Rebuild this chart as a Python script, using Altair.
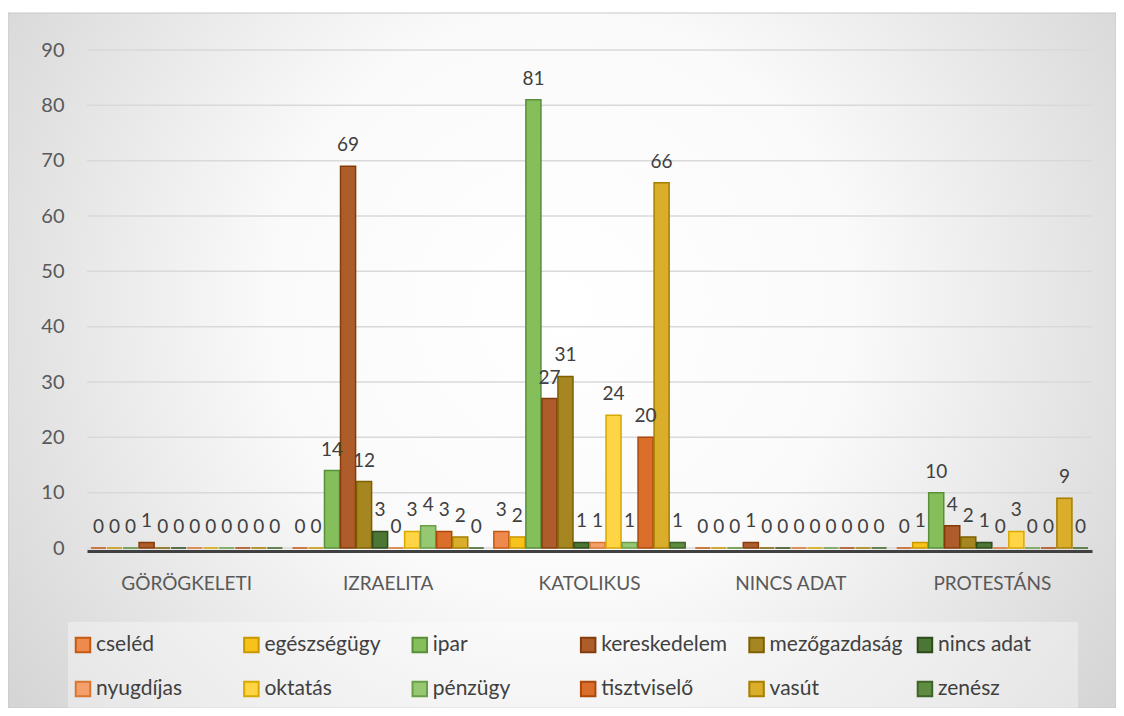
import altair as alt
import pandas as pd

categories = ["GÖRÖGKELETI", "IZRAELITA", "KATOLIKUS", "NINCS ADAT", "PROTESTÁNS"]
series = ["cseléd", "egészségügy", "ipar", "kereskedelem", "mezőgazdaság", "nincs adat",
          "nyugdíjas", "oktatás", "pénzügy", "tisztviselő", "vasút", "zenész"]

gorogkeleti = [0, 0, 0, 1, 0, 0, 0, 0, 0, 0, 0, 0]
izraelita = [0, 0, 14, 69, 12, 3, 0, 3, 4, 3, 2, 0]
katolikus = [3, 2, 81, 27, 31, 1, 1, 24, 1, 20, 66, 1]
nincs_adat = [0, 0, 0, 1, 0, 0, 0, 0, 0, 0, 0, 0]
protestans = [0, 1, 10, 4, 2, 1, 0, 3, 0, 0, 9, 0]

y_ticks = [0, 10, 20, 30, 40, 50, 60, 70, 80, 90]

fill_colors = ["#EF8A4E", "#F7C21A", "#84BF5C", "#AE5C2A", "#A68621", "#4C7633",
               "#F4A06C", "#FFD445", "#96C873", "#DC6E2C", "#DAAD2A", "#5E8C40"]
stroke_colors = ["#C55A11", "#C99700", "#5A8F38", "#843C0C", "#7F6000", "#2F4A1C",
                 "#D9762F", "#D9A800", "#6A9E48", "#A94A0C", "#A67F00", "#3F6328"]

value_rows = [gorogkeleti, izraelita, katolikus, nincs_adat, protestans]
records = []
for cat, vals in zip(categories, value_rows):
    for s, v in zip(series, vals):
        records.append({"cat": cat, "series": s, "value": v})
df = pd.DataFrame(records)

legend_cols = [0, 1, 2, 3, 4, 5, 0, 1, 2, 3, 4, 5]
legend_rows = [0, 0, 0, 0, 0, 0, 1, 1, 1, 1, 1, 1]
df_leg = pd.DataFrame({"series": series, "col": legend_cols, "row": legend_rows})

FONT = "Lato"
W, H = 1005, 498
color_scale = alt.Scale(domain=series, range=fill_colors)
stroke_scale = alt.Scale(domain=series, range=stroke_colors)

one = pd.DataFrame({"k": [0]})

# chart-area background (radial gradient as in the original)
bg = alt.Chart(one).mark_rect(
    fill=alt.RadialGradient(
        gradient="radial", x1=0.5, y1=0.45, r1=0, x2=0.5, y2=0.45, r2=0.75,
        stops=[alt.GradientStop(offset=0, color="#ffffff"),
               alt.GradientStop(offset=0.35, color="#fafafa"),
               alt.GradientStop(offset=1, color="#c6c6c6")]),
    stroke="#c8c8c8", strokeWidth=1,
).encode(x=alt.value(-79), x2=alt.value(1029), y=alt.value(-37), y2=alt.value(658))

x_scale = alt.Scale(paddingInner=0.05, paddingOuter=0.02)
xo_scale = alt.Scale(paddingInner=0.06)
y_scale = alt.Scale(domain=[0, 90], nice=False)

grid = alt.Chart(pd.DataFrame({"v": y_ticks})).mark_rule(
    color="#d9d9d9", strokeWidth=1.5
).encode(y=alt.Y("v:Q", scale=y_scale, axis=None))

bars = alt.Chart(df).mark_bar(strokeWidth=1.5).encode(
    x=alt.X("cat:N", sort=categories, title=None, scale=x_scale,
            axis=alt.Axis(labelAngle=0, labelFontSize=19, labelColor="#595959",
                          labelFont=FONT, ticks=False, domainColor="#404040",
                          domainWidth=3, labelPadding=23, offset=3, zindex=1)),
    xOffset=alt.XOffset("series:N", sort=series, scale=xo_scale),
    y=alt.Y("value:Q", title=None, scale=y_scale,
            axis=alt.Axis(values=y_ticks, labelFontSize=20,
                          labelColor="#595959", labelFont=FONT, ticks=False,
                          domain=False, grid=False, labelPadding=23, zindex=1)),
    color=alt.Color("series:N", scale=color_scale, legend=None),
    stroke=alt.Stroke("series:N", scale=stroke_scale, legend=None),
)

labels = alt.Chart(df).mark_text(baseline="bottom", dy=-11, fontSize=19, color="#404040",
                                 font=FONT).encode(
    x=alt.X("cat:N", sort=categories, scale=x_scale, axis=None),
    xOffset=alt.XOffset("series:N", sort=series, scale=xo_scale),
    y=alt.Y("value:Q", scale=y_scale, axis=None),
    text="value:Q",
)

leg_box = alt.Chart(one).mark_rect(fill="#ffffff", fillOpacity=0.35).encode(
    x=alt.value(-19), x2=alt.value(991), y=alt.value(572), y2=alt.value(658))

leg_x = alt.X("col:Q", scale=alt.Scale(domain=[0.0238, 5.992], nice=False, zero=False), axis=None)
leg_y = alt.Y("row:Q", scale=alt.Scale(domain=[-13.523, -2.205], nice=False, zero=False,
                                       reverse=True), axis=None)

leg_sq = alt.Chart(df_leg).mark_square(size=210, strokeWidth=2, opacity=1).encode(
    x=leg_x, y=leg_y,
    color=alt.Color("series:N", scale=color_scale, legend=None),
    stroke=alt.Stroke("series:N", scale=stroke_scale, legend=None),
)
leg_txt = alt.Chart(df_leg).mark_text(align="left", baseline="middle", dx=13, fontSize=21,
                                      color="#404040", font=FONT).encode(
    x=leg_x, y=leg_y, text="series:N")

chart = alt.layer(bg, grid, bars, labels, leg_box, leg_sq, leg_txt).resolve_scale(
    x="independent", y="independent"
).resolve_axis(
    x="independent", y="independent"
).properties(
    width=W, height=H,
    autosize=alt.AutoSizeParams(type="none"),
    padding={"top": 42, "left": 79, "right": 24, "bottom": 160},
    background="#ffffff",
).configure_view(stroke=None)

chart.save("out.html", embed_options={"renderer": "svg", "actions": False})
